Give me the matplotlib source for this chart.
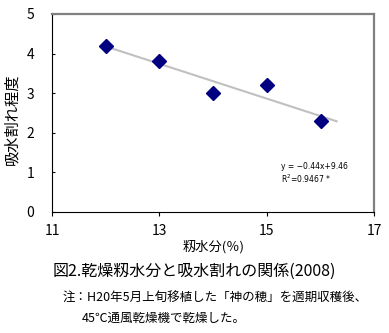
import numpy as np
import matplotlib
matplotlib.use('Agg')
import matplotlib.pyplot as plt

plt.rcParams['font.family'] = ['Noto Sans CJK JP', 'DejaVu Sans']

# data
moisture = [12, 13, 14, 15, 16]
cracking = [4.2, 3.8, 3.0, 3.2, 2.3]
x_ticks = [11, 13, 15, 17]
y_ticks = [0, 1, 2, 3, 4, 5]

fig = plt.figure(figsize=(3.89, 3.33), dpi=100)
ax = fig.add_axes([0.134, 0.364, 0.828, 0.594])

# trend line
slope, inter = np.polyfit(moisture, cracking, 1)
tx = np.array([moisture[0], moisture[-1] + 0.3])
ax.plot(tx, slope * tx + inter, color='#c0c0c0', linewidth=1.5, zorder=1)

ax.plot(moisture, cracking, linestyle='none', marker='D', markersize=7,
        color='#000080', zorder=2)

ax.set_xlim(11, 17)
ax.set_ylim(0, 5)
ax.set_xticks(x_ticks)
ax.set_yticks(y_ticks)
ax.tick_params(labelsize=10, width=0.8)
ax.tick_params(axis='x', direction='out', length=3, pad=6)
ax.tick_params(axis='y', direction='in', length=2.5, pad=13)
for s in ['top', 'right']:
    ax.spines[s].set_color('#808080')
    ax.spines[s].set_linewidth(1.6)

ax.text(0.71, 0.215, 'y = \u22120.44x+9.46', transform=ax.transAxes, fontsize=5.5,
        family=['DejaVu Sans'])
ax.text(0.71, 0.145, 'R$^2$=0.9467 *', transform=ax.transAxes, fontsize=5.5,
        family=['DejaVu Sans'])

ax.set_xlabel('籾水分(％)', fontsize=9.5, labelpad=1)
ax.set_ylabel('吸水割れ程度', fontsize=11)
ax.yaxis.set_label_coords(-0.1, 0.47)

fig.text(0.499, 0.172, '図2.乾燥籾水分と吸水割れの関係(2008)', ha='center', fontsize=11.5)
fig.text(0.16, 0.093, '注：H20年5月上旬移植した「神の穂」を適期収穫後、', fontsize=9)
fig.text(0.21, 0.033, '45℃通風乾燥機で乾燥した。', fontsize=9)

fig.savefig('out.png', dpi=100)
